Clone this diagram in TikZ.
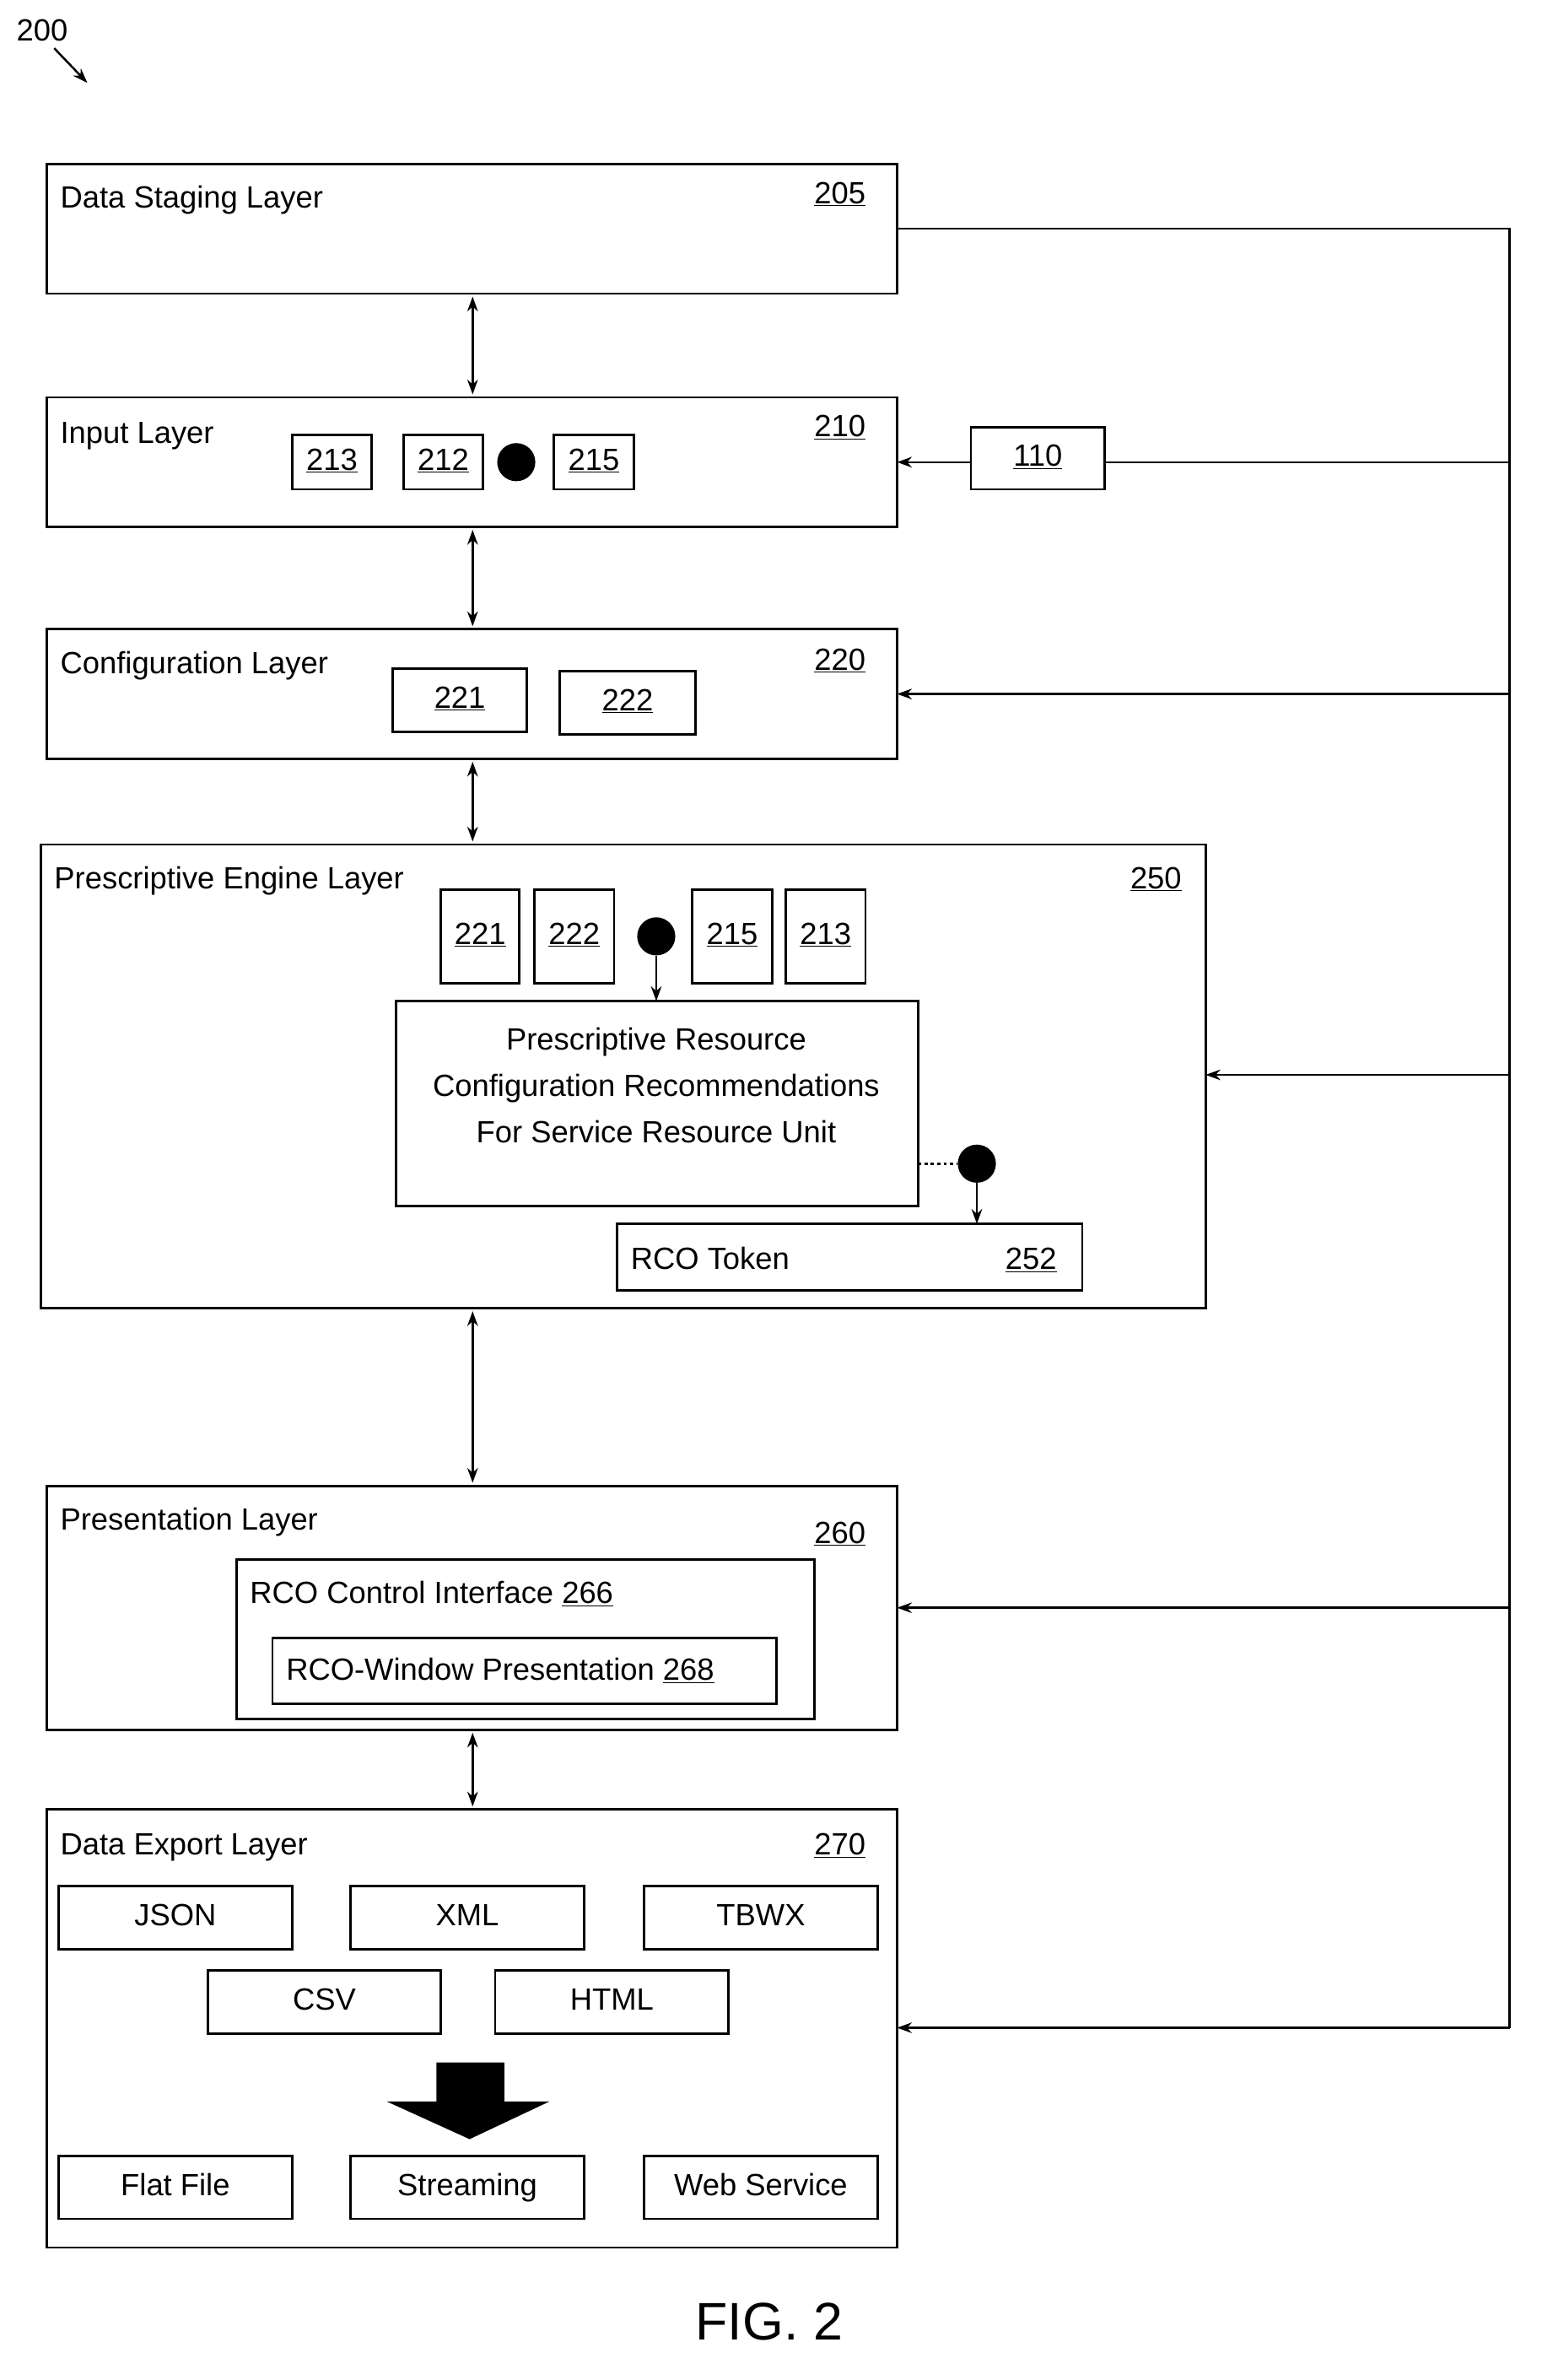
\documentclass[tikz,border=0pt]{standalone}
\usepackage{fontspec}
\setmainfont{Liberation Sans}
\usetikzlibrary{arrows.meta,positioning}
\begin{document}
\begin{tikzpicture}[x=0.05cm,y=-0.05cm,>={Stealth[length=14pt,width=10pt]},
    font=\fontsize{29}{35}\selectfont,
    every node/.style={inner sep=0pt}]
  % layer boxes and small boxes
  \tikzstyle{layer}=[draw,line width=2.2pt]
  \tikzstyle{ref}=[draw,line width=2.2pt]
  \tikzstyle{lbl}=[text height=21pt,text depth=6pt]
  \tikzstyle{dot}=[circle,fill=black,minimum size=36pt]
  \tikzstyle{link}=[line width=2pt]
  \useasboundingbox (0,0) rectangle (1024,1581);

  \node (n200) at (28,20) {200};
  \draw[link,->] (36,32) -- (58,55);

  % data staging
  \draw[layer] (31,109) rectangle (596,195);
  \node[anchor=west,lbl] (stg) at (40,133) {Data Staging Layer};
  \node[lbl] (s205) at (558,130) {\underline{205}};
  \coordinate (stgR) at (596,152);

  % input
  \draw[layer] (31,264) rectangle (596,350);
  \node[anchor=west,lbl] (inp) at (40,289) {Input Layer};
  \node[lbl] (i210) at (558,285) {\underline{210}};
  \draw[ref] (194,289) rectangle node[lbl] (i213) {\underline{213}} (247,325);
  \draw[ref] (268,289) rectangle node[lbl] (i212) {\underline{212}} (321,325);
  \node[dot] (idot) at (343,307) {};
  \draw[ref] (368,289) rectangle node[lbl] (i215) {\underline{215}} (421,325);
  \draw[ref] (645,284) rectangle node[lbl] (b110) {\underline{110}} (734,325);

  % configuration
  \draw[layer] (31,418) rectangle (596,504);
  \node[anchor=west,lbl] (cfg) at (40,442) {Configuration Layer};
  \node[lbl] (c220) at (558,440) {\underline{220}};
  \draw[ref] (261,444) rectangle node[lbl] (c221) {\underline{221}} (350,486);
  \draw[ref] (372,446) rectangle node[lbl] (c222) {\underline{222}} (462,488);

  % prescriptive engine
  \draw[layer] (27,561) rectangle (801,869);
  \node[anchor=west,lbl] (eng) at (36,585) {Prescriptive Engine Layer};
  \node[lbl] (e250) at (768,585) {\underline{250}};
  \draw[ref] (293,591) rectangle node[lbl] (e221) {\underline{221}} (345,653);
  \draw[ref] (355,591) rectangle node[lbl] (e222) {\underline{222}} (408,653);
  \node[dot] (edot) at (436,622) {};
  \draw[ref] (460,591) rectangle node[lbl] (e215) {\underline{215}} (513,653);
  \draw[ref] (522,591) rectangle node[lbl] (e213) {\underline{213}} (575,653);
  \draw[ref] (263,665) rectangle (610,801);
  \node[align=center,font=\fontsize{29}{44}\selectfont] (rec) at (436,721)
    {Prescriptive Resource\\Configuration Recommendations\\For Service Resource Unit};
  \node[dot] (tdot) at (649,773) {};
  \draw[link,dashed] (610,773) -- (tdot);
  \draw[ref] (410,813) rectangle (719,857);
  \node[anchor=west,lbl] (tok) at (419,838) {RCO Token};
  \node[lbl] (e252) at (685,838) {\underline{252}};
  \draw[link,->] (edot) -- (436,665);
  \draw[link,->] (tdot) -- (649,813);

  % presentation
  \draw[layer] (31,987) rectangle (596,1149);
  \node[anchor=west,lbl] (pre) at (40,1011) {Presentation Layer};
  \node[lbl] (p260) at (558,1020) {\underline{260}};
  \draw[ref] (157,1036) rectangle (541,1142);
  \node[anchor=west,lbl] (rci) at (166,1060) {RCO Control Interface \underline{266}};
  \draw[ref] (181,1088) rectangle (516,1132);
  \node[anchor=west,lbl] (rwp) at (190,1111) {RCO-Window Presentation \underline{268}};

  % data export
  \draw[layer] (31,1202) rectangle (596,1493);
  \node[anchor=west,lbl] (exp) at (40,1227) {Data Export Layer};
  \node[lbl] (x270) at (558,1227) {\underline{270}};
  \draw[ref] (39,1253) rectangle node[lbl] (json) {JSON} (194,1295);
  \draw[ref] (233,1253) rectangle node[lbl] (xml) {XML} (388,1295);
  \draw[ref] (428,1253) rectangle node[lbl] (tbwx) {TBWX} (583,1295);
  \draw[ref] (138,1309) rectangle node[lbl] (csv) {CSV} (293,1351);
  \draw[ref] (329,1309) rectangle node[lbl] (html) {HTML} (484,1351);
  \fill (290,1370) -- (335,1370) -- (335,1396) -- (365,1396) -- (312,1421)
    -- (257,1396) -- (290,1396) -- cycle;
  \draw[ref] (39,1432) rectangle node[lbl] (flat) {Flat File} (194,1474);
  \draw[ref] (233,1432) rectangle node[lbl] (strm) {Streaming} (388,1474);
  \draw[ref] (428,1432) rectangle node[lbl] (web) {Web Service} (583,1474);

  % layer links
  \draw[link,<->] (314,197) -- (314,262);
  \draw[link,<->] (314,352) -- (314,416);
  \draw[link,<->] (314,506) -- (314,559);
  \draw[link,<->] (314,871) -- (314,985);
  \draw[link,<->] (314,1151) -- (314,1200);

  % right bus
  \draw[link] (stgR) -- (1003,152) -- (1003,1347);
  \draw[link] (1003,307) -- (734,307);
  \draw[link,->] (645,307) -- (596,307);
  \draw[link,->] (1003,461) -- (596,461);
  \draw[link,->] (1003,714) -- (801,714);
  \draw[link,->] (1003,1068) -- (596,1068);
  \draw[link,->] (1003,1347) -- (596,1347);

  \node[font=\fontsize{50}{56}\selectfont] (fig) at (511,1542) {FIG. 2};
\end{tikzpicture}
\end{document}
